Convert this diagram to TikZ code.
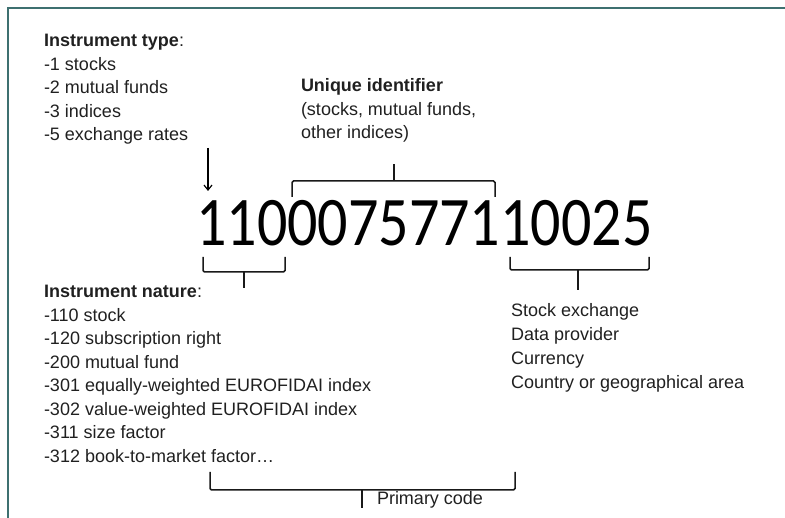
\documentclass[tikz,border=0pt]{standalone}
\usepackage{fontspec}
\setmainfont{Liberation Sans}
\newfontfamily\digitfont{Carlito}
\usetikzlibrary{arrows.meta}

\definecolor{frameteal}{RGB}{62,112,112}
\definecolor{inktext}{RGB}{32,32,32}

\begin{document}
\begin{tikzpicture}[
    x=1pt, y=-1pt,
    >={Straight Barb[length=5pt,width=8pt]},
    txt/.style={anchor=base west, inner sep=0pt, outer sep=0pt,
                font=\fontsize{18}{22}\selectfont, text=inktext},
    bracket/.style={line width=1.5pt, rounded corners=1.5pt, black!90},
    frame/.style={line width=1.8pt, frameteal},
]
\useasboundingbox (0,0) rectangle (785,518);

% ── Frame ───────────────────────────────────────────────────────────────────
\draw[frame] (785,8) -- (8,8) -- (8,518);

% ── Instrument type ─────────────────────────────────────────────────────────
\node[txt] (type0) at (44,47) {\textbf{Instrument type}:};
\foreach \t [count=\i] in {-1 stocks, -2 mutual funds, -3 indices, -5 exchange rates}
    \node[txt] (type\i) at (44,47+23.5*\i) {\t};

% ── Unique identifier ───────────────────────────────────────────────────────
\node[txt] (uid0) at (301,92)    {\textbf{Unique identifier}};
\node[txt] (uid1) at (301,115.5) {(stocks, mutual funds,};
\node[txt] (uid2) at (301,139)   {other indices)};

% ── The code itself ─────────────────────────────────────────────────────────
\node[anchor=base west, inner sep=0pt, font=\digitfont\fontsize{60}{60}\selectfont]
    (code) at (196,246) {\scalebox{1}[1.16]{110007577110025}};

% type arrow
\coordinate (arrtop) at (208,148);
\coordinate (arrtip) at (208,191);
\draw[->, line width=1.2pt] (arrtop) -- (arrtip);

% ── Brackets ────────────────────────────────────────────────────────────────
\draw[bracket] (203,257) -- (203,272) -- (285,272) -- (285,257);
\draw[bracket] (244,272) -- (244,288);

\draw[bracket] (292,197) -- (292,181) -- (495,181) -- (495,197);
\draw[bracket] (394,181) -- (394,164);

\draw[bracket] (510,257) -- (510,270) -- (649,270) -- (649,257);
\draw[bracket] (578,270) -- (578,290);

\draw[bracket] (210,472) -- (210,490) -- (515,490) -- (515,472);
\draw[bracket] (362,490) -- (362,508);

% ── Instrument nature ───────────────────────────────────────────────────────
\node[txt] (nat0) at (44,298) {\textbf{Instrument nature}:};
\foreach \t [count=\i] in {-110 stock, -120 subscription right, -200 mutual fund,
    -301 equally-weighted EUROFIDAI index, -302 value-weighted EUROFIDAI index,
    -311 size factor, -312 book-to-market factor…}
    \node[txt] (nat\i) at (44,298+23.5*\i) {\t};

% ── Reference part ──────────────────────────────────────────────────────────
\foreach \t [count=\i] in {Stock exchange, Data provider, Currency,
    Country or geographical area}
    \node[txt] (ref\i) at (511,317+23.7*\i-23.7) {\t};

\node[txt] (primary) at (377,505) {Primary code};

\end{tikzpicture}
\end{document}
